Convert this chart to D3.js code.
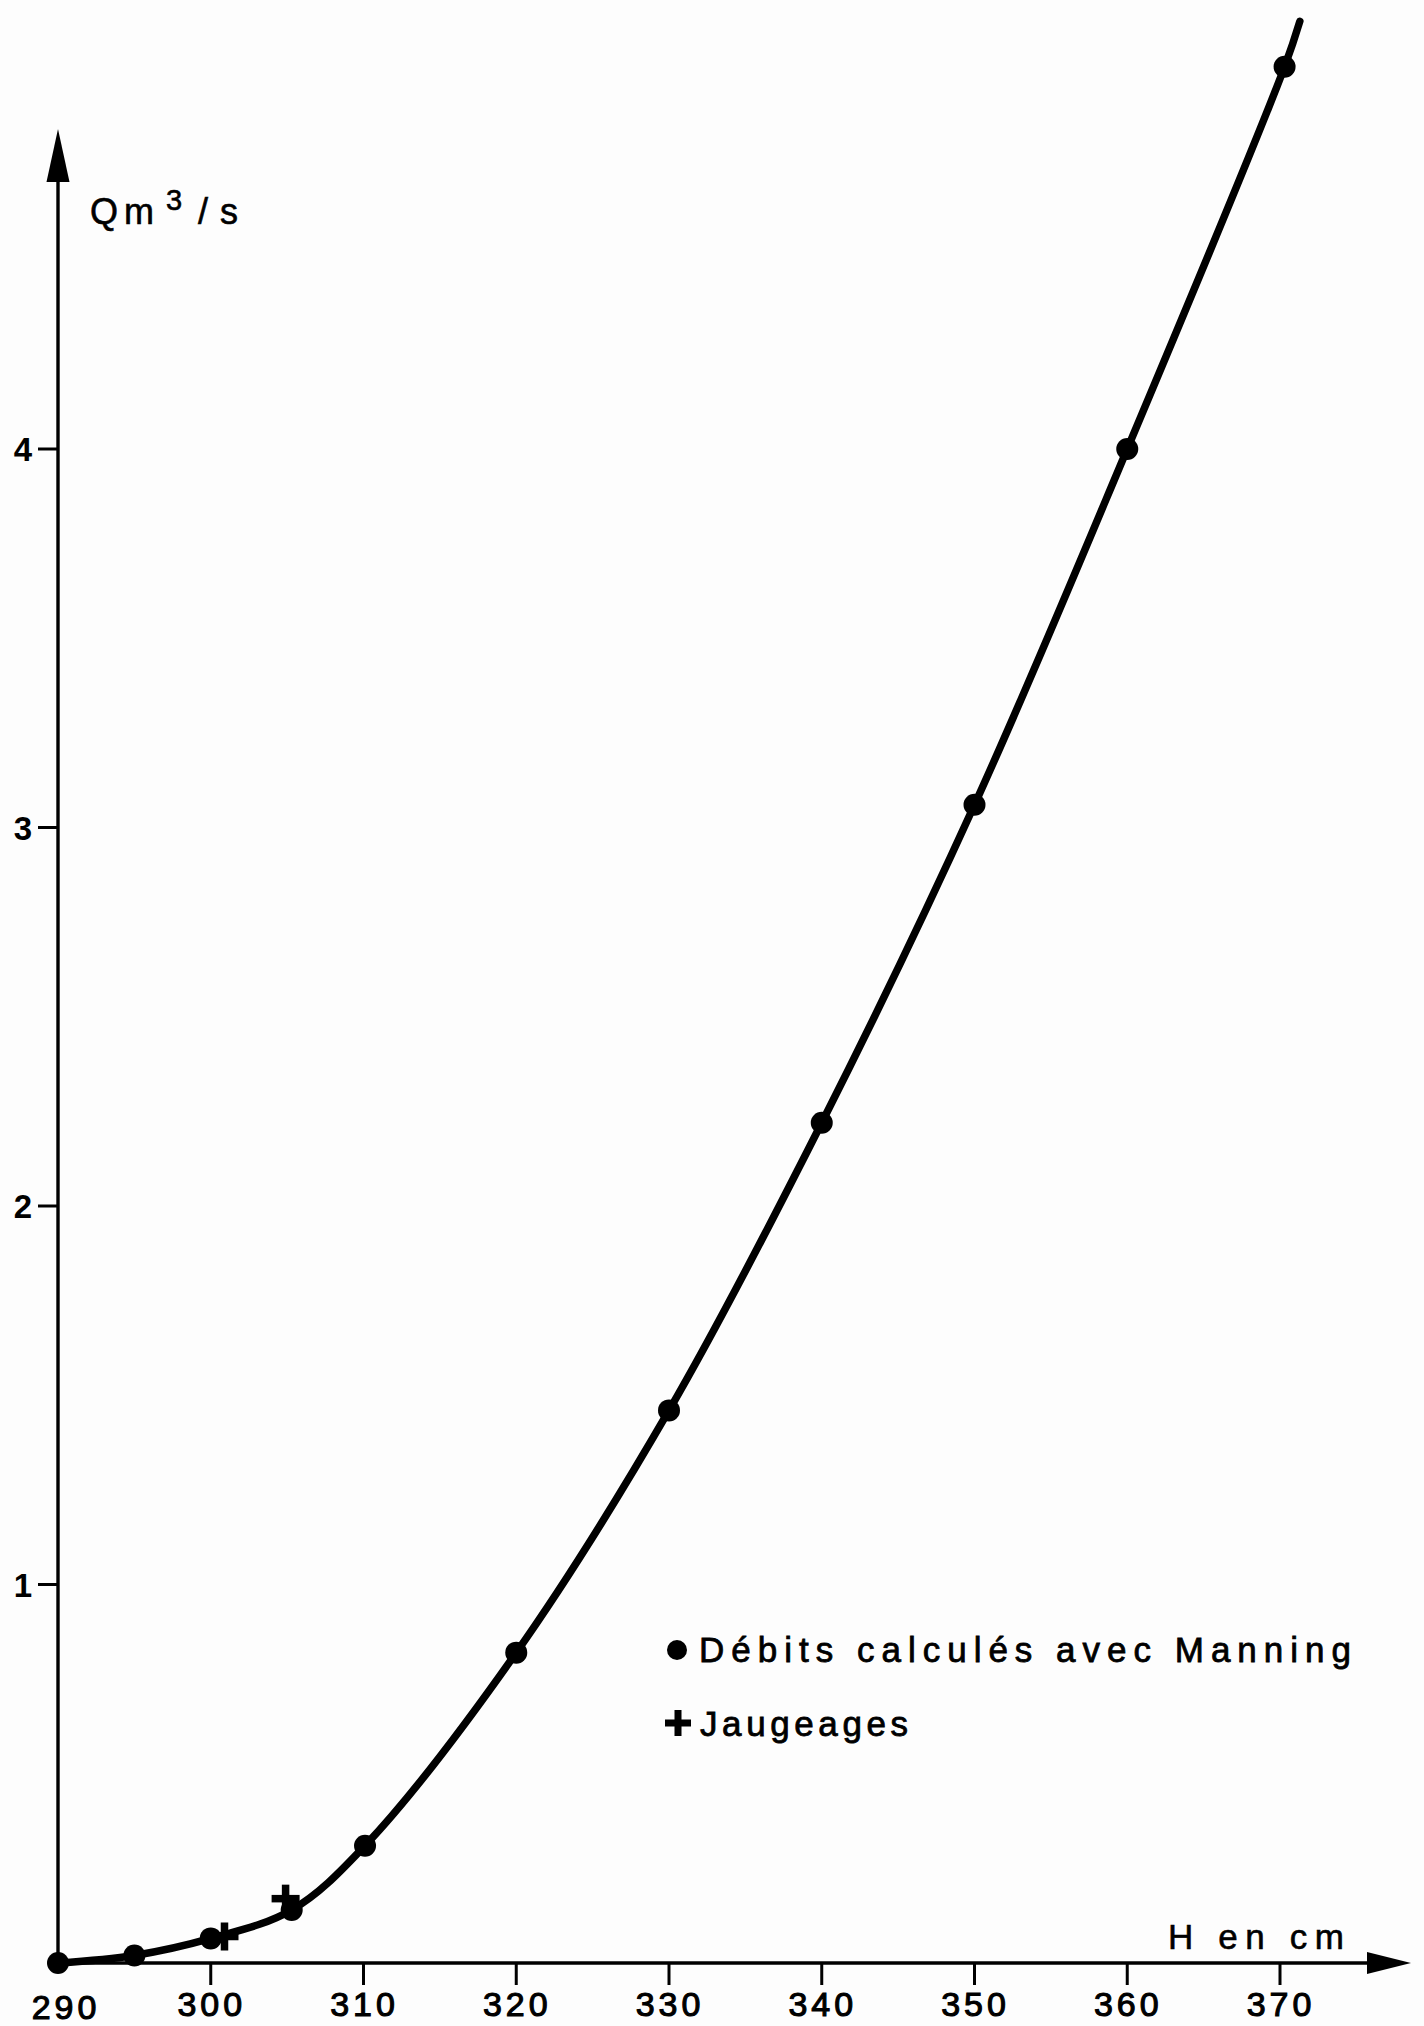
<!DOCTYPE html>
<html>
<head>
<meta charset="utf-8">
<script src="https://cdn.jsdelivr.net/npm/d3@7"></script>
<style>
  html, body { margin: 0; padding: 0; background: #fdfdfd; }
  svg { display: block; }
  text { font-family: "Liberation Sans", Arial, Helvetica, sans-serif; fill: #000; }
</style>
</head>
<body>
<script>
// Stage H (cm) and discharge Q (m3/s) computed with the Manning formula
const manningH = [290, 295, 300, 305.3, 310.1, 320, 330, 340, 350, 360, 370.3];
const manningQ = [0, 0.02, 0.065, 0.14, 0.31, 0.82, 1.46, 2.22, 3.06, 4.0, 5.01];

// Field gaugings (jaugeages)
const gaugingH = [300.9, 304.9];
const gaugingQ = [0.07, 0.17];

// Rating curve end point, drawn just past the last computed value
const curveEndH = 371.3;
const curveEndQ = 5.13;

// Axis ticks
const xTicks = [290, 300, 310, 320, 330, 340, 350, 360, 370];
const yTicks = [1, 2, 3, 4];

const legendLabels = ["Débits calculés avec Manning", "Jaugeages"];

const W = 1424, H = 2026;
const svg = d3.select("body").append("svg").attr("width", W).attr("height", H);

const x = d3.scaleLinear().domain([290, 370]).range([58, 1280]);
const y = d3.scaleLinear().domain([0, 4]).range([1963, 449]);

const ink = "#000";

// ---- Axes ----
const axisY0 = y(0);
// horizontal axis with arrow
svg.append("line")
  .attr("x1", x(290)).attr("x2", 1372)
  .attr("y1", axisY0).attr("y2", axisY0)
  .attr("stroke", ink).attr("stroke-width", 3.4);
svg.append("path")
  .attr("d", `M1411,${axisY0} L1367,${axisY0 - 11} L1367,${axisY0 + 11} Z`)
  .attr("fill", ink);

// vertical axis with arrow
svg.append("line")
  .attr("x1", x(290)).attr("x2", x(290))
  .attr("y1", axisY0).attr("y2", 178)
  .attr("stroke", ink).attr("stroke-width", 3.4);
svg.append("path")
  .attr("d", `M${x(290)},129 L${x(290) - 11.5},182 L${x(290) + 11.5},182 Z`)
  .attr("fill", ink);

// x ticks and labels
const xg = svg.append("g");
xg.selectAll("line").data(xTicks.filter(d => d > 290)).join("line")
  .attr("x1", d => x(d)).attr("x2", d => x(d))
  .attr("y1", axisY0).attr("y2", axisY0 + 22)
  .attr("stroke", ink).attr("stroke-width", 3);
xg.selectAll("text").data(xTicks).join("text")
  .attr("x", d => d === 290 ? x(d) + 8 : x(d) + 1)
  .attr("y", d => d === 290 ? 2019 : 2016)
  .attr("text-anchor", "middle")
  .attr("font-size", 34)
  .attr("letter-spacing", 4)
  .attr("stroke", ink).attr("stroke-width", 1.1)
  .text(d => d);

// y ticks and labels
const yg = svg.append("g");
yg.selectAll("line").data(yTicks).join("line")
  .attr("x1", x(290) - 20).attr("x2", x(290))
  .attr("y1", d => y(d)).attr("y2", d => y(d))
  .attr("stroke", ink).attr("stroke-width", 3);
yg.selectAll("text").data(yTicks).join("text")
  .attr("x", 32)
  .attr("y", d => y(d) + 12)
  .attr("text-anchor", "end")
  .attr("font-size", 33)
  .attr("font-weight", "bold")
  .text(d => d);

// axis titles
const qt = svg.append("text").attr("font-size", 36).attr("y", 224)
  .attr("stroke", ink).attr("stroke-width", 0.6);
qt.append("tspan").attr("x", 90).text("Q");
qt.append("tspan").attr("x", 124).text("m");
qt.append("tspan").attr("x", 166).attr("dy", -14).attr("font-size", 29).text("3");
qt.append("tspan").attr("x", 198).attr("dy", 14).text("/");
qt.append("tspan").attr("x", 220).text("s");

svg.append("text")
  .attr("x", 1168).attr("y", 1949)
  .attr("font-size", 35)
  .attr("stroke", ink).attr("stroke-width", 0.6)
  .attr("textLength", 176).attr("lengthAdjust", "spacing")
  .text("H en cm");

// ---- Rating curve ----
const curvePts = manningH.map((h, i) => [h, manningQ[i]]).concat([[curveEndH, curveEndQ]]);
const line = d3.line()
  .x(d => x(d[0])).y(d => y(d[1]))
  .curve(d3.curveCatmullRom.alpha(0.5));
svg.append("path")
  .attr("d", line(curvePts))
  .attr("fill", "none")
  .attr("stroke", ink)
  .attr("stroke-width", 7.5)
  .attr("stroke-linecap", "round")
  .attr("stroke-linejoin", "round");

// computed points
svg.append("g").selectAll("circle").data(manningH).join("circle")
  .attr("cx", d => x(d))
  .attr("cy", (d, i) => y(manningQ[i]))
  .attr("r", 11)
  .attr("fill", ink);

// gauging crosses
function plus(g, cx, cy, arm, thick) {
  g.append("rect").attr("x", cx - arm).attr("y", cy - thick / 2)
    .attr("width", 2 * arm).attr("height", thick).attr("fill", ink);
  g.append("rect").attr("x", cx - thick / 2).attr("y", cy - arm)
    .attr("width", thick).attr("height", 2 * arm).attr("fill", ink);
}
const gg = svg.append("g");
gaugingH.forEach((h, i) => plus(gg, x(h), y(gaugingQ[i]), 14, 7.5));

// ---- Legend ----
svg.append("circle").attr("cx", 677).attr("cy", 1650).attr("r", 10).attr("fill", ink);
svg.append("text")
  .attr("x", 699).attr("y", 1662)
  .attr("font-size", 35)
  .attr("stroke", ink).attr("stroke-width", 0.8)
  .attr("textLength", 652).attr("lengthAdjust", "spacing")
  .text(legendLabels[0]);

plus(svg.append("g"), 678, 1723, 13, 7);
svg.append("text")
  .attr("x", 700).attr("y", 1736)
  .attr("font-size", 35)
  .attr("stroke", ink).attr("stroke-width", 0.8)
  .attr("textLength", 208).attr("lengthAdjust", "spacing")
  .text(legendLabels[1]);
</script>
</body>
</html>
